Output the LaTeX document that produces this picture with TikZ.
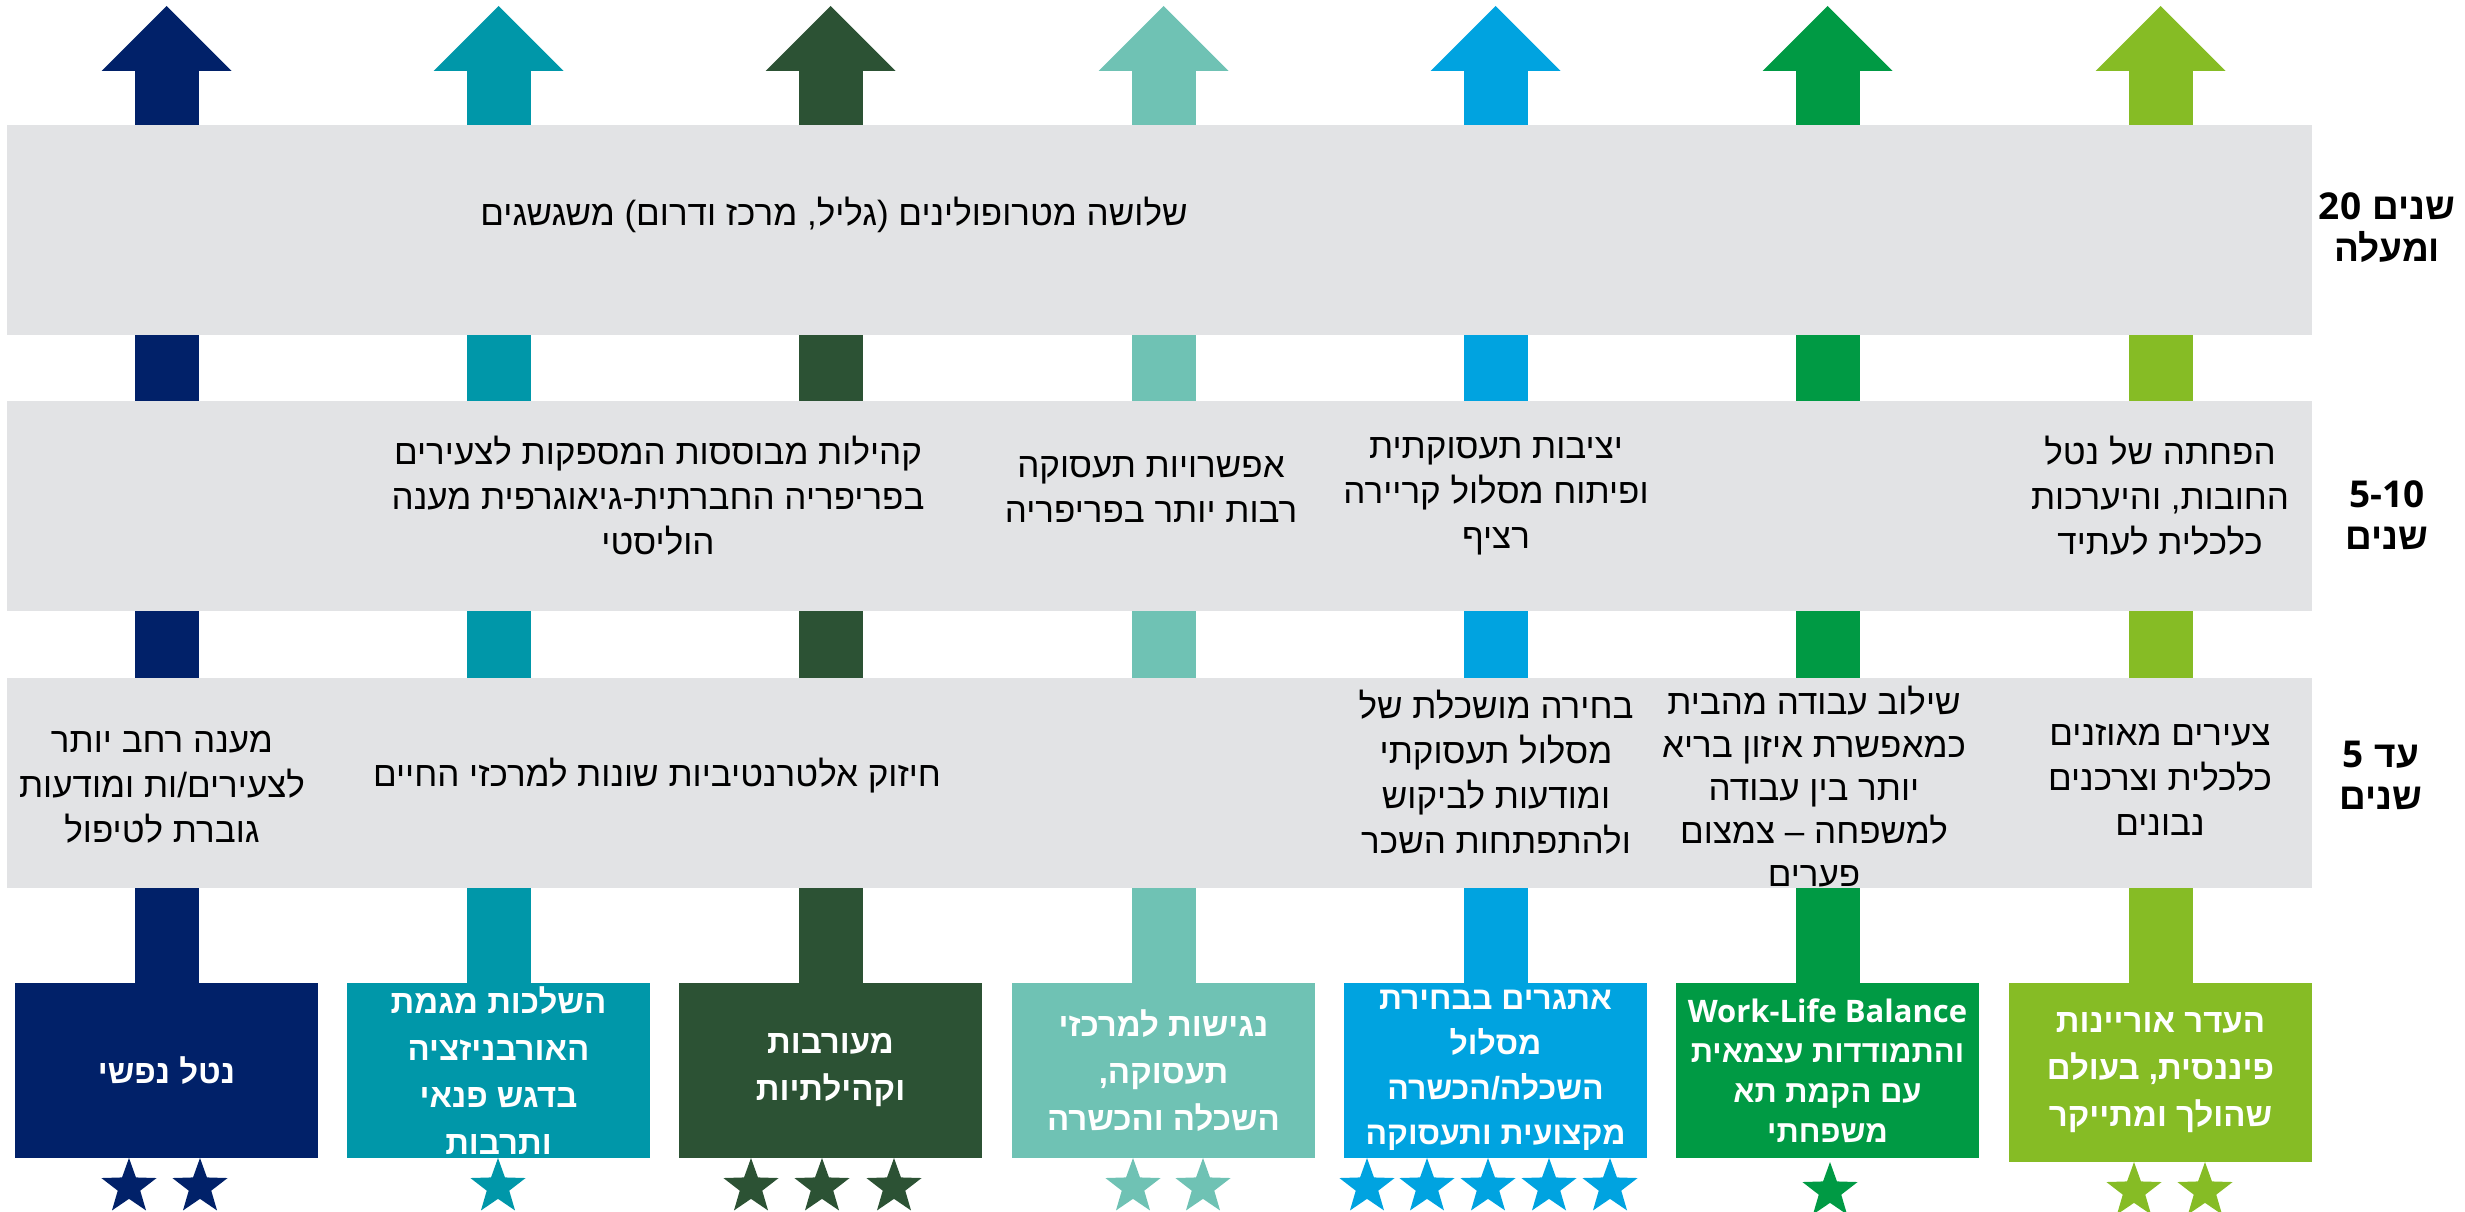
\documentclass[tikz,border=0pt]{standalone}
\usepackage{fontspec}
\usetikzlibrary{shapes.geometric}
\TeXXeTstate=1
\newfontfamily\heb[Script=Hebrew]{Liberation Sans}
\newfontfamily\lat{Open Sans}
\definecolor{cNavy}{HTML}{012169}
\definecolor{cTeal}{HTML}{0097A9}
\definecolor{cDkGreen}{HTML}{2C5234}
\definecolor{cAqua}{HTML}{6FC2B4}
\definecolor{cCyan}{HTML}{00A3E0}
\definecolor{cGreen}{HTML}{009A44}
\definecolor{cLime}{HTML}{86BC25}
\definecolor{cBand}{HTML}{E2E3E5}
\tikzset{
  bandbox/.style={fill=cBand, minimum width=2305pt, minimum height=210pt, inner sep=0pt, outer sep=0pt, anchor=north west},
  goalbox/.style={fill=#1, minimum width=303pt, minimum height=175pt, inner sep=0pt, outer sep=0pt},
  bandtxt/.style={font={\heb\fontsize{35}{45}\selectfont}, align=center, inner sep=0pt, text=black},
  boxtxt/.style={font={\heb\bfseries\fontsize{33}{47}\selectfont}, align=center, inner sep=0pt, text=white},
  rowlbl/.style={font={\heb\bfseries\fontsize{37}{42}\selectfont}, align=center, inner sep=0pt, text=black},
  starmark/.style={star, star points=5, star point ratio=2.45, minimum size=58pt, inner sep=0pt, outer sep=0pt, fill=#1, draw=none},
}
\begin{document}
\begin{tikzpicture}[x=1pt,y=-1pt]
\useasboundingbox (0,0) rectangle (2465,1212);
% goal boxes
\node[goalbox=cNavy]    (b1) at (166.5,1070.5) {};
\node[goalbox=cTeal]    (b2) at (498.5,1070.5) {};
\node[goalbox=cDkGreen] (b3) at (830.5,1070.5) {};
\node[goalbox=cAqua]    (b4) at (1163.5,1070.5) {};
\node[goalbox=cCyan]    (b5) at (1495.5,1070.5) {};
\node[goalbox=cGreen]   (b6) at (1827.5,1070.5) {};
\node[goalbox=cLime, minimum height=179pt] (b7) at (2160.5,1072.5) {};
% arrows
\foreach \i/\x/\c in {1/166.5/cNavy,2/498.5/cTeal,3/830.5/cDkGreen,4/1163.5/cAqua,5/1495.5/cCyan,6/1827.5/cGreen,7/2160.5/cLime}{
  \coordinate (tip\i) at (\x,6);
  \coordinate (neck\i) at (\x,66);
  \draw[\c, line width=64pt] (b\i.north) -- (neck\i);
  \fill[\c] (tip\i) -- ++(65,65) -- ++(-130,0) -- cycle;
}
% bands
\node[bandbox] (band1) at (7,125) {};
\node[bandbox] (band2) at (7,401) {};
\node[bandbox] (band3) at (7,678) {};
% row labels
\node[rowlbl] (l20) at (2387,228) {\hbox{\lat 20}\hspace{0.3em}\hbox{שנים}\\\beginR ומעלה\endR};
\node[rowlbl] (l510) at (2387,515) {{\lat 5-10}\\\beginR שנים\endR};
\node[rowlbl] (l5) at (2381,775) {\hbox{\lat 5}\hspace{0.3em}\hbox{עד}\\\beginR שנים\endR};
% band 1
\node[bandtxt] (t1) at (834,215) {\beginR שלושה מטרופולינים (גליל, מרכז ודרום) משגשגים\endR};
% band 2
\node[bandtxt] (t2a) at (658,496) {\beginR קהילות מבוססות המספקות לצעירים\endR\\\beginR בפריפריה החברתית-גיאוגרפית מענה\endR\\\beginR הוליסטי\endR};
\node[bandtxt] (t2b) at (1151,490) {\beginR אפשרויות תעסוקה\endR\\\beginR רבות יותר בפריפריה\endR};
\node[bandtxt] (t2c) at (1496,496) {\beginR יציבות תעסוקתית\endR\\\beginR ופיתוח מסלול קריירה\endR\\\beginR רציף\endR};
\node[bandtxt] (t2d) at (2160,496) {\beginR הפחתה של נטל\endR\\\beginR החובות, והיערכות\endR\\\beginR כלכלית לעתיד\endR};
% band 3
\node[bandtxt] (t3a) at (162,787) {\beginR מענה רחב יותר\endR\\\beginR לצעירים/ות ומודעות\endR\\\beginR גוברת לטיפול\endR};
\node[bandtxt] (t3b) at (657,776) {\beginR חיזוק אלטרנטיביות שונות למרכזי החיים\endR};
\node[bandtxt] (t3c) at (1496,772) {\beginR בחירה מושכלת של\endR\\\beginR מסלול תעסוקתי\endR\\\beginR ומודעות לביקוש\endR\\\beginR ולהתפתחות השכר\endR};
\node[bandtxt, font={\heb\fontsize{35}{43}\selectfont}] (t3d) at (1814,787) {\beginR שילוב עבודה מהבית\endR\\\beginR כמאפשרת איזון בריא\endR\\\beginR יותר בין עבודה\endR\\\beginR למשפחה – צמצום\endR\\\beginR פערים\endR};
\node[bandtxt] (t3e) at (2160,780) {\beginR צעירים מאוזנים\endR\\\beginR כלכלית וצרכנים\endR\\\beginR נבונים\endR};
% box texts
\node[boxtxt] (x1) at (b1.center) {\beginR נטל נפשי\endR};
\node[boxtxt] (x2) at (b2.center) {\beginR השלכות מגמת\endR\\\beginR האורבניזציה\endR\\\beginR בדגש פנאי\endR\\\beginR ותרבות\endR};
\node[boxtxt] (x3) at (b3.center) {\beginR מעורבות\endR\\\beginR וקהילתיות\endR};
\node[boxtxt] (x4) at (b4.center) {\beginR נגישות למרכזי\endR\\\beginR תעסוקה,\endR\\\beginR השכלה והכשרה\endR};
\node[boxtxt, font={\heb\bfseries\fontsize{32}{45}\selectfont}] (x5) at (b5.center) {\beginR אתגרים בבחירת\endR\\\beginR מסלול\endR\\\beginR השכלה/הכשרה\endR\\\beginR מקצועית ותעסוקה\endR};
\node[boxtxt, font={\heb\bfseries\fontsize{31}{40}\selectfont}] (x6) at (b6.center) {{\lat Work-Life Balance}\\\beginR והתמודדות עצמאית\endR\\\beginR עם הקמת תא\endR\\\beginR משפחתי\endR};
\node[boxtxt] (x7) at (b7.center) {\beginR העדר אוריינות\endR\\\beginR פיננסית, בעולם\endR\\\beginR שהולך ומתייקר\endR};
% stars
\node[starmark=cNavy] (s1a) at (129,1187) {};
\node[starmark=cNavy] (s1b) at (200,1187) {};
\node[starmark=cTeal] (s2a) at (498,1187) {};
\node[starmark=cDkGreen] (s3a) at (751,1187) {};
\node[starmark=cDkGreen] (s3b) at (822,1187) {};
\node[starmark=cDkGreen] (s3c) at (894,1187) {};
\node[starmark=cAqua] (s4a) at (1133,1187) {};
\node[starmark=cAqua] (s4b) at (1203,1187) {};
\node[starmark=cCyan] (s5a) at (1367,1187) {};
\node[starmark=cCyan] (s5b) at (1427,1187) {};
\node[starmark=cCyan] (s5c) at (1488,1187) {};
\node[starmark=cCyan] (s5d) at (1549,1187) {};
\node[starmark=cCyan] (s5e) at (1610,1187) {};
\node[starmark=cGreen] (s6a) at (1830,1191) {};
\node[starmark=cLime] (s7a) at (2134,1191) {};
\node[starmark=cLime] (s7b) at (2205,1191) {};
\end{tikzpicture}
\end{document}
